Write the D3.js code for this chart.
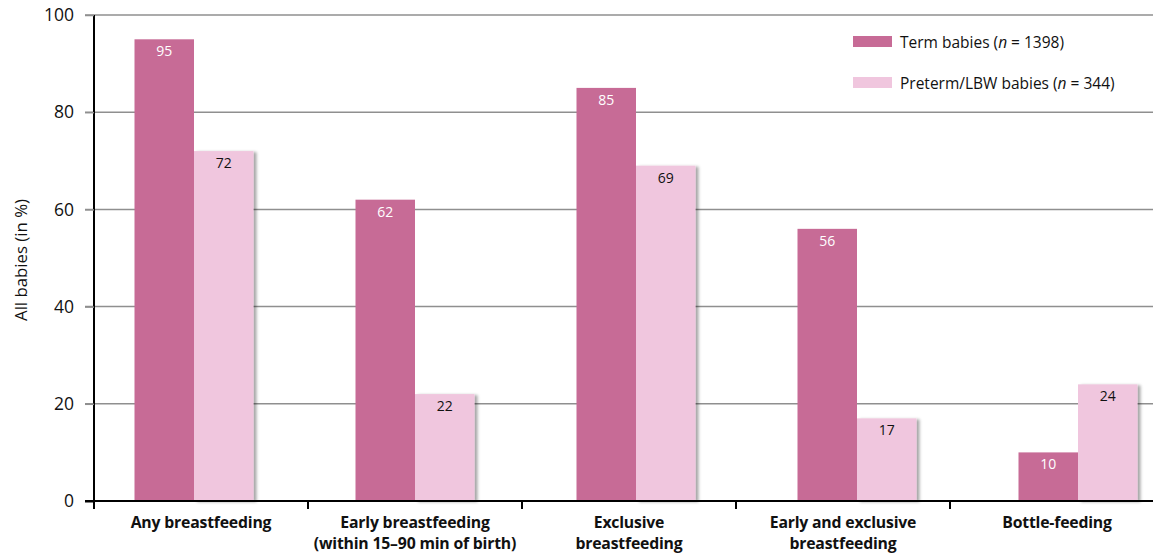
<!DOCTYPE html>
<html>
<head>
<meta charset="utf-8">
<script src="https://cdn.jsdelivr.net/npm/d3@7"></script>
<style>
  body { margin: 0; background: #fff; }
  svg { font-family: "Open Sans", "Noto Sans", sans-serif; }
</style>
</head>
<body>
<div id="chart"></div>
<script>
var categories = [
  ["Any breastfeeding"],
  ["Early breastfeeding", "(within 15\u201390 min of birth)"],
  ["Exclusive", "breastfeeding"],
  ["Early and exclusive", "breastfeeding"],
  ["Bottle-feeding"]
]
var termValues = [95, 62, 85, 56, 10]
var pretermValues = [72, 22, 69, 17, 24]
var yTicks = [0, 20, 40, 60, 80, 100]
var seriesNames = ["Term babies", "Preterm/LBW babies"]
var seriesN = [1398, 344]

var width = 1153, height = 555
var termColor = "#c76b96", pretermColor = "#f0c6de"

var svg = d3.select("#chart").append("svg")
  .attr("width", width)
  .attr("height", height)

var defs = svg.append("defs")
defs.append("filter").attr("id", "shadow")
  .attr("x", "-10%").attr("y", "-10%").attr("width", "130%").attr("height", "120%")
  .append("feDropShadow")
  .attr("dx", 3).attr("dy", 1).attr("stdDeviation", 1.8)
  .attr("flood-color", "#000").attr("flood-opacity", 0.35)

var keys = categories.map(function (c, i) { return i })

var y = d3.scaleLinear().domain([0, 100]).range([501, 15])

// axis categories (ticks + labels)
var xAxisScale = d3.scaleBand().domain(keys).range([94, 1164])
// bar groups
var xBars = d3.scaleBand().domain(keys).range([83.5, 1188.5])
var xInner = d3.scaleBand().domain([0, 1]).range([0, 119])

// gridlines
svg.append("g").selectAll("line")
  .data(yTicks.filter(function (t) { return t > 0 }))
  .enter().append("line")
  .attr("x1", 85).attr("x2", width)
  .attr("y1", function (d) { return y(d) }).attr("y2", function (d) { return y(d) })
  .attr("stroke", "#8f8f8f").attr("stroke-width", 1.5)

// y axis
var yAxis = svg.append("g").attr("transform", "translate(94,0)")
  .call(d3.axisLeft(y).tickValues(yTicks).tickSize(9).tickPadding(11))
yAxis.select(".domain").attr("stroke", "#000").attr("stroke-width", 2)
  .attr("d", "M0," + y(100) + "V" + y(0))
yAxis.selectAll(".tick line").attr("stroke", function (d) { return d === 0 ? "#000" : "#8f8f8f" })
  .attr("stroke-width", function (d) { return d === 0 ? 2 : 1.5 })
yAxis.selectAll(".tick text").attr("font-size", 17.5).attr("fill", "#111")
  .attr("font-family", "'Open Sans', sans-serif")

svg.append("text")
  .attr("transform", "translate(27," + (y(50) + 2) + ") rotate(-90)")
  .attr("text-anchor", "middle")
  .attr("font-size", 16.8).attr("fill", "#111")
  .text("All babies (in %)")

// bars
var groups = svg.append("g").selectAll("g")
  .data(keys).enter().append("g")
  .attr("transform", function (d) {
    return "translate(" + (xBars(d) + xBars.bandwidth() / 2 - 59.5) + ",0)"
  })

groups.append("rect")
  .attr("x", xInner(1)).attr("width", xInner.bandwidth())
  .attr("y", function (d) { return y(pretermValues[d]) })
  .attr("height", function (d) { return y(0) - y(pretermValues[d]) })
  .attr("fill", pretermColor)
  .attr("filter", "url(#shadow)")

groups.append("rect")
  .attr("x", xInner(0)).attr("width", xInner.bandwidth())
  .attr("y", function (d) { return y(termValues[d]) })
  .attr("height", function (d) { return y(0) - y(termValues[d]) })
  .attr("fill", termColor)

groups.append("text")
  .attr("x", xInner(0) + xInner.bandwidth() / 2)
  .attr("y", function (d) { return y(termValues[d]) + 17 })
  .attr("text-anchor", "middle").attr("font-size", 14).attr("fill", "#fff")
  .text(function (d) { return termValues[d] })

groups.append("text")
  .attr("x", xInner(1) + xInner.bandwidth() / 2)
  .attr("y", function (d) { return y(pretermValues[d]) + 17 })
  .attr("text-anchor", "middle").attr("font-size", 14).attr("fill", "#111")
  .text(function (d) { return pretermValues[d] })

// x axis baseline and ticks
svg.append("line")
  .attr("x1", 85).attr("x2", width).attr("y1", y(0)).attr("y2", y(0))
  .attr("stroke", "#000").attr("stroke-width", 2)

svg.append("g").selectAll("line")
  .data(keys).enter().append("line")
  .attr("x1", function (d) { return xAxisScale(d) }).attr("x2", function (d) { return xAxisScale(d) })
  .attr("y1", y(0)).attr("y2", y(0) + 8)
  .attr("stroke", "#000").attr("stroke-width", 2)

var labels = svg.append("g").selectAll("text")
  .data(keys).enter().append("text")
  .attr("x", function (d) { return xAxisScale(d) + xAxisScale.bandwidth() / 2 })
  .attr("y", 528)
  .attr("text-anchor", "middle").attr("font-size", 15.8).attr("font-weight", "bold")
  .attr("letter-spacing", -0.2).attr("fill", "#111")

labels.selectAll("tspan")
  .data(function (d) { return categories[d] })
  .enter().append("tspan")
  .attr("x", function () { return d3.select(this.parentNode).attr("x") })
  .attr("dy", function (d, i) { return i === 0 ? 0 : 21 })
  .text(function (d) { return d })

// legend
var legend = svg.append("g").selectAll("g")
  .data([0, 1]).enter().append("g")
  .attr("transform", function (d) { return "translate(853," + (36 + d * 41) + ")" })

legend.append("rect")
  .attr("width", 39).attr("height", 11)
  .attr("fill", function (d) { return d === 0 ? termColor : pretermColor })

var lt = legend.append("text")
  .attr("x", 47).attr("y", 11.5)
  .attr("font-size", 15.5).attr("fill", "#111")
lt.append("tspan").text(function (d) { return seriesNames[d] + " (" })
lt.append("tspan").attr("font-style", "italic").text("n")
lt.append("tspan").text(function (d) { return " = " + seriesN[d] + ")" })
</script>
</body>
</html>
